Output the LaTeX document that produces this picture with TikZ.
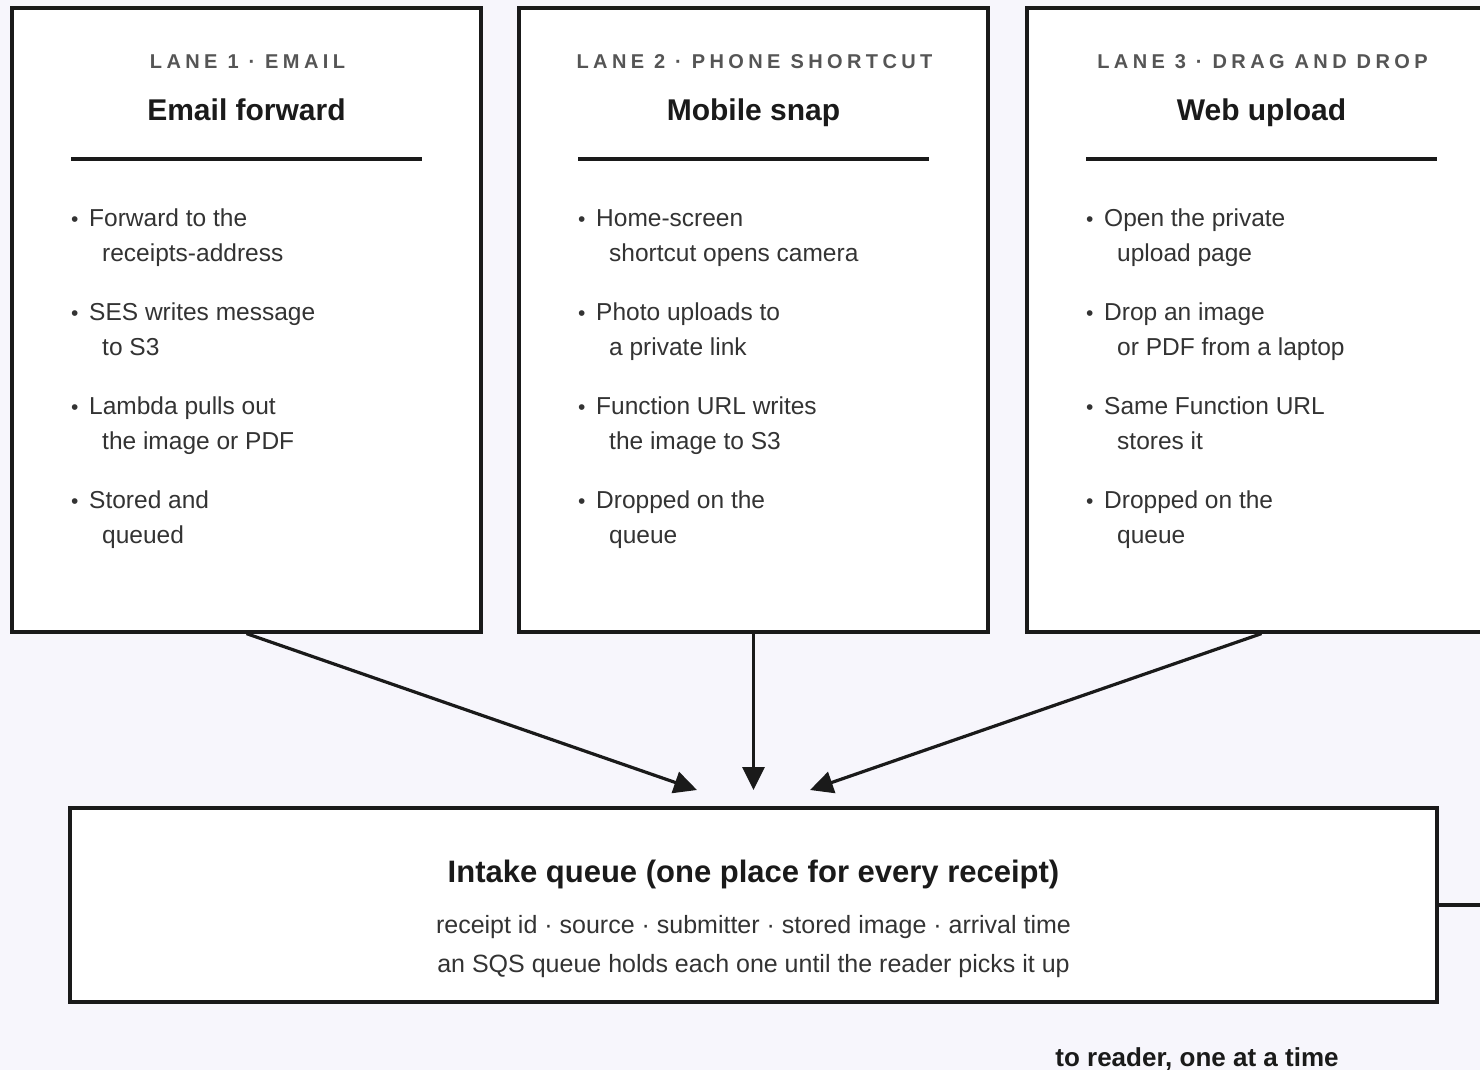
\documentclass[tikz,border=0pt]{standalone}
\usepackage{fontspec}
\setmainfont{Liberation Sans}
\newfontfamily\capsfont[LetterSpace=22]{Liberation Sans}
\usetikzlibrary{arrows.meta}
\definecolor{bg}{HTML}{F7F6FC}
\definecolor{ink}{HTML}{1A1A1A}
\definecolor{bodyc}{HTML}{333333}
\definecolor{muted}{HTML}{555555}
\begin{document}
\begin{tikzpicture}[x=1pt,y=-1pt,
  lanebox/.style={draw=ink,line width=3.2pt,fill=white,minimum width=469pt,minimum height=624pt,anchor=center,inner sep=0pt},
  qbox/.style={draw=ink,line width=3.2pt,fill=white,minimum width=1367pt,minimum height=194pt,anchor=center,inner sep=0pt},
  lanelabel/.style={font=\capsfont\bfseries\fontsize{20}{20}\selectfont,text=muted,anchor=base,inner sep=0pt},
  lanetitle/.style={font=\bfseries\fontsize{30}{30}\selectfont,text=ink,anchor=base,inner sep=0pt},
  rulel/.style={draw=ink,line width=3.2pt},
  bul/.style={font=\fontsize{24.5}{24.5}\selectfont,text=bodyc,anchor=base west,inner sep=0pt},
  dotb/.style={font=\fontsize{21}{21}\selectfont,text=bodyc,anchor=base west,inner sep=0pt},
  qtitle/.style={font=\bfseries\fontsize{31}{31}\selectfont,text=ink,anchor=base,inner sep=0pt},
  qsub/.style={font=\fontsize{25}{25}\selectfont,text=bodyc,anchor=base,inner sep=0pt},
  arr/.style={draw=ink,line width=3.2pt,-{Triangle[length=23pt,width=22pt]}},
  plain/.style={draw=ink,line width=3.2pt}
]
\useasboundingbox (0,0) rectangle (1480,1070);
\fill[bg] (0,0) rectangle (1480,1070);
\clip (0,0) rectangle (1480,1070);

% lane boxes
\node[lanebox] (lane1) at (246.5,320) {};
\node[lanebox] (lane2) at (753.5,320) {};
\node[lanebox] (lane3) at (1261.5,320) {};

% headers
\node[lanelabel] (lab1) at (247.5,69) {LANE 1 · EMAIL};
\node[lanelabel] (lab2) at (754.5,69) {LANE 2 · PHONE SHORTCUT};
\node[lanelabel] (lab3) at (1262.5,69) {LANE 3 · DRAG AND DROP};
\node[lanetitle] (tit1) at (246.5,121) {Email forward};
\node[lanetitle] (tit2) at (753.5,121) {Mobile snap};
\node[lanetitle] (tit3) at (1261.5,121) {Web upload};
\draw[rulel] (71,159) -- (422,159);
\draw[rulel] (578,159) -- (929,159);
\draw[rulel] (1086,159) -- (1437,159);

% bullets lane 1
\foreach[count=\k] \t/\u in {Forward to the/receipts-address, SES writes message/to S3, Lambda pulls out/the image or PDF, Stored and/queued}{
  \node[dotb] (a\k d) at (71,{226+94*(\k-1)}) {•};
  \node[bul] (a\k t) at (89,{226+94*(\k-1)}) {\t};
  \node[bul] (a\k u) at (102,{261+94*(\k-1)}) {\u};
}
% bullets lane 2
\foreach[count=\k] \t/\u in {Home-screen/shortcut opens camera, Photo uploads to/a private link, Function URL writes/the image to S3, Dropped on the/queue}{
  \node[dotb] (b\k d) at (578,{226+94*(\k-1)}) {•};
  \node[bul] (b\k t) at (596,{226+94*(\k-1)}) {\t};
  \node[bul] (b\k u) at (609,{261+94*(\k-1)}) {\u};
}
% bullets lane 3
\foreach[count=\k] \t/\u in {Open the private/upload page, Drop an image/or PDF from a laptop, Same Function URL/stores it, Dropped on the/queue}{
  \node[dotb] (c\k d) at (1086,{226+94*(\k-1)}) {•};
  \node[bul] (c\k t) at (1104,{226+94*(\k-1)}) {\t};
  \node[bul] (c\k u) at (1117,{261+94*(\k-1)}) {\u};
}

% intake queue
\node[qbox] (intake) at (753.5,905) {};
\node[qtitle] (qt) at (753.5,882) {Intake queue (one place for every receipt)};
\node[qsub] (qs1) at (753.5,933) {receipt id · source · submitter · stored image · arrival time};
\node[qsub] (qs2) at (753.5,972) {an SQS queue holds each one until the reader picks it up};

% arrows
\coordinate (in1) at (697,790);
\coordinate (in2) at (753.5,790);
\coordinate (in3) at (810,790);
\draw[arr] (lane1.south) -- (in1);
\draw[arr] (lane2.south) -- (in2);
\draw[arr] (lane3.south) -- (in3);

% exit
\coordinate (out) at ([xshift=60pt]intake.east);
\draw[plain] (intake.east) -- (out);
\node[font=\bfseries\fontsize{26}{26}\selectfont,text=ink,anchor=base,inner sep=0pt] (toreader) at (1197,1066) {to reader, one at a time};
\end{tikzpicture}
\end{document}
